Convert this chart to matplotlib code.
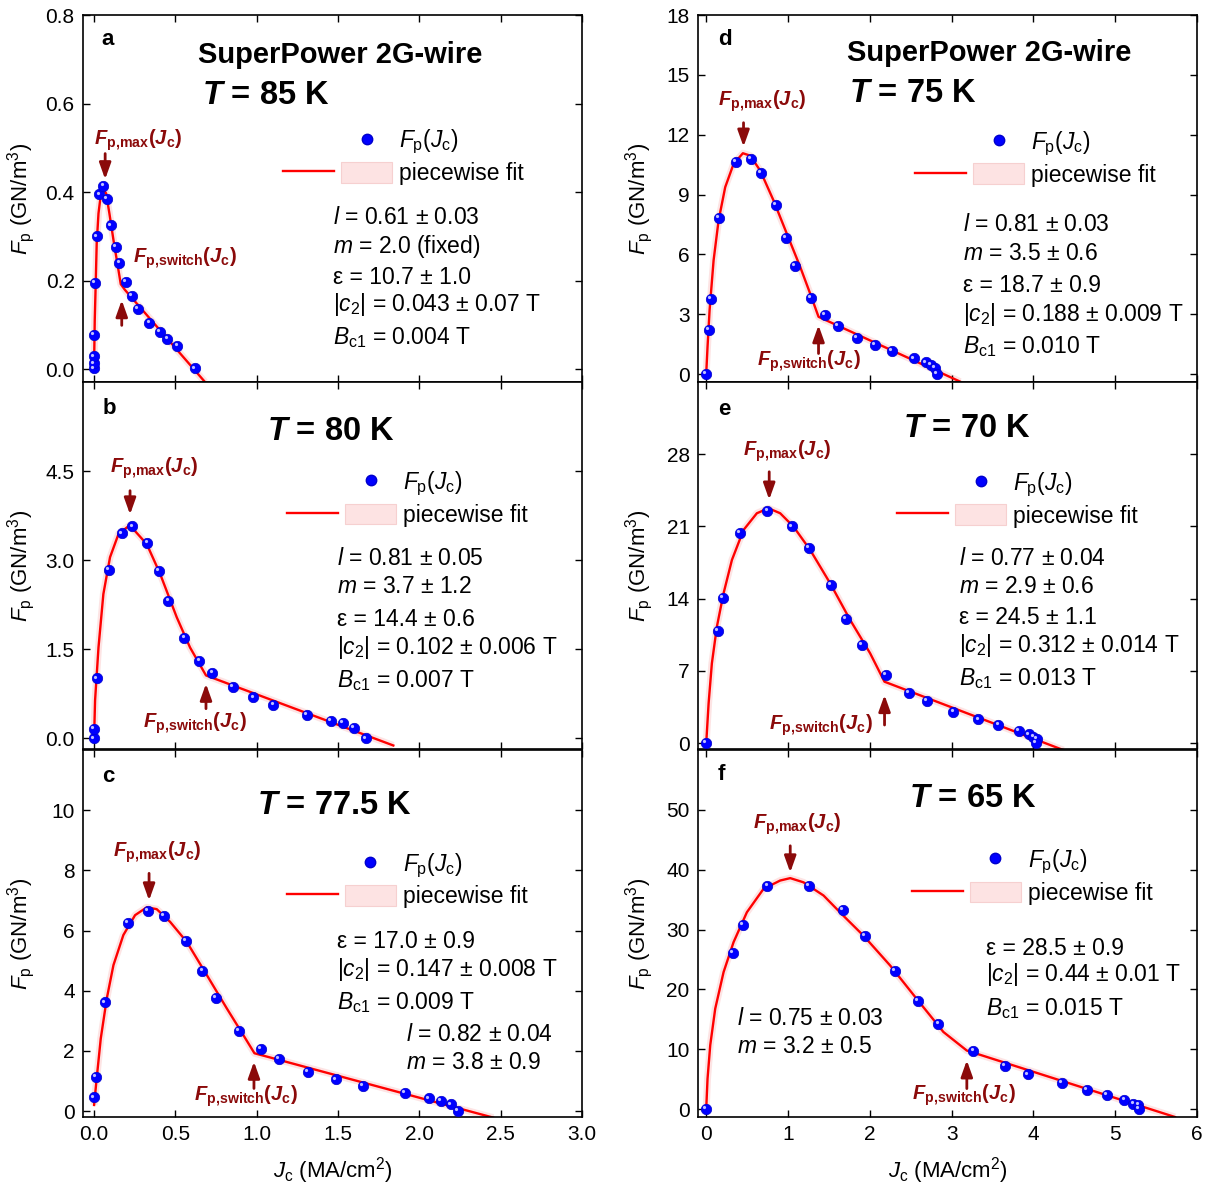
import matplotlib
matplotlib.use('Agg')
import matplotlib.pyplot as plt
from matplotlib.lines import Line2D
from matplotlib.patches import Patch
from matplotlib.legend_handler import HandlerTuple
from matplotlib.ticker import FormatStrFormatter
from matplotlib.transforms import offset_copy

plt.rcParams['font.family'] = ['Liberation Sans', 'DejaVu Sans']
plt.rcParams['mathtext.fontset'] = 'custom'
plt.rcParams['mathtext.rm'] = 'Liberation Sans'
plt.rcParams['mathtext.it'] = 'Liberation Sans:italic'
plt.rcParams['mathtext.bf'] = 'Liberation Sans:bold'
plt.rcParams['mathtext.bfit'] = 'Liberation Sans:bold:italic'

# ---- data (Jc in MA/cm^2, Fp in GN/m^3) ----
jc_a = [0.0, 0.0, 0.0, 0.0, 0.006, 0.016, 0.033, 0.057, 0.078, 0.104, 0.135, 0.156,
        0.197, 0.232, 0.268, 0.340, 0.406, 0.451, 0.512, 0.621]
fp_a = [0.002, 0.013, 0.029, 0.078, 0.195, 0.300, 0.395, 0.414, 0.384, 0.325, 0.276, 0.240,
        0.197, 0.165, 0.137, 0.105, 0.084, 0.068, 0.053, 0.002]
fit_jc_a = [0.0, 0.004, 0.010, 0.016, 0.027, 0.041, 0.057, 0.074, 0.094, 0.119, 0.143, 0.164, 0.19, 0.682]
fit_fp_a = [0.013, 0.111, 0.194, 0.284, 0.352, 0.393, 0.406, 0.397, 0.352, 0.292, 0.239, 0.192, 0.179, -0.029]

jc_b = [0.0, 0.0, 0.016, 0.092, 0.170, 0.236, 0.328, 0.400, 0.457, 0.555, 0.647, 0.727,
        0.852, 0.979, 1.102, 1.307, 1.455, 1.528, 1.598, 1.672]
fp_b = [0.0, 0.16, 1.01, 2.83, 3.45, 3.57, 3.29, 2.82, 2.31, 1.69, 1.31, 1.10,
        0.86, 0.69, 0.57, 0.40, 0.30, 0.26, 0.17, 0.0]
fit_jc_b = [0.0, 0.006, 0.027, 0.057, 0.098, 0.150, 0.215, 0.252, 0.324, 0.406, 0.508, 0.590, 0.688, 1.840]
fit_fp_b = [0.02, 0.64, 1.53, 2.43, 3.05, 3.44, 3.58, 3.49, 3.27, 2.77, 2.04, 1.53, 1.06, -0.12]

jc_c = [0.0, 0.012, 0.068, 0.207, 0.330, 0.430, 0.563, 0.666, 0.748, 0.891, 1.026, 1.137,
        1.313, 1.487, 1.655, 1.911, 2.061, 2.131, 2.192, 2.239]
fp_c = [0.45, 1.14, 3.61, 6.24, 6.66, 6.48, 5.66, 4.66, 3.76, 2.67, 2.06, 1.72,
        1.31, 1.05, 0.83, 0.59, 0.42, 0.33, 0.22, 0.0]
fit_jc_c = [0.0, 0.016, 0.041, 0.078, 0.119, 0.180, 0.252, 0.324, 0.385, 0.467, 0.570, 0.693,
            0.816, 0.918, 0.986, 2.454]
fit_fp_c = [0.20, 1.09, 2.41, 3.74, 4.85, 5.85, 6.51, 6.77, 6.71, 6.29, 5.62, 4.52,
            3.41, 2.52, 1.92, -0.22]

jc_d = [0.0, 0.029, 0.057, 0.159, 0.363, 0.542, 0.668, 0.851, 0.974, 1.088, 1.283, 1.454,
        1.609, 1.841, 2.065, 2.269, 2.542, 2.684, 2.746, 2.798, 2.819]
fp_d = [0.0, 2.2, 3.75, 7.83, 10.62, 10.78, 10.07, 8.48, 6.83, 5.42, 3.83, 2.95,
        2.42, 1.83, 1.45, 1.15, 0.78, 0.58, 0.45, 0.32, 0.0]
fit_jc_d = [0.0, 0.016, 0.041, 0.090, 0.151, 0.232, 0.334, 0.448, 0.538, 0.660, 0.823, 0.986,
            1.149, 1.271, 1.373, 3.104]
fit_fp_d = [0.03, 1.37, 3.2, 5.7, 7.7, 9.37, 10.53, 11.07, 10.95, 10.2, 8.7, 7.03,
            5.37, 4.03, 2.87, -0.38]

jc_e = [0.0, 0.143, 0.200, 0.407, 0.749, 1.047, 1.259, 1.524, 1.711, 1.902, 2.200, 2.481,
        2.697, 3.022, 3.328, 3.572, 3.825, 3.947, 4.0, 4.041, 4.029]
fp_e = [0.0, 10.9, 14.1, 20.4, 22.5, 21.0, 18.9, 15.3, 12.0, 9.5, 6.6, 4.9,
        4.07, 3.04, 2.3, 1.75, 1.2, 0.84, 0.61, 0.39, 0.0]
fit_jc_e = [0.0, 0.029, 0.069, 0.130, 0.212, 0.314, 0.456, 0.619, 0.762, 0.904, 1.067, 1.271,
            1.515, 1.760, 2.004, 2.179, 4.367]
fit_fp_e = [0.0, 3.85, 7.73, 11.28, 14.52, 17.75, 20.66, 22.28, 22.76, 22.28, 20.98, 18.72,
            15.49, 11.93, 8.70, 5.95, -0.68]

jc_f = [0.0, 0.326, 0.444, 0.749, 1.251, 1.666, 1.943, 2.310, 2.587, 2.839, 3.267, 3.654,
        3.931, 4.347, 4.652, 4.897, 5.112, 5.222, 5.283, 5.291]
fp_f = [0.0, 26.1, 30.8, 37.3, 37.3, 33.3, 29.0, 23.1, 18.1, 14.3, 9.8, 7.2,
        5.83, 4.4, 3.28, 2.44, 1.61, 0.94, 0.67, 0.0]
fit_jc_f = [0.0, 0.016, 0.049, 0.110, 0.212, 0.334, 0.497, 0.700, 0.904, 1.027, 1.189, 1.434,
            1.678, 1.922, 2.249, 2.575, 2.900, 3.186, 5.731]
fit_fp_f = [0.1, 5.1, 10.7, 16.8, 22.9, 27.9, 32.9, 36.8, 38.2, 38.6, 37.9, 35.7,
            32.3, 29.0, 24.0, 18.4, 12.9, 9.8, -1.3]

yticks_a = [0.0, 0.2, 0.4, 0.6, 0.8]
yticks_b = [0.0, 1.5, 3.0, 4.5]
yticks_c = [0, 2, 4, 6, 8, 10]
yticks_d = [0, 3, 6, 9, 12, 15, 18]
yticks_e = [0, 7, 14, 21, 28]
yticks_f = [0, 10, 20, 30, 40, 50]
xticks_left = [0.0, 0.5, 1.0, 1.5, 2.0, 2.5, 3.0]
xticks_right = [0, 1, 2, 3, 4, 5, 6]

stats_a = [r'$l$ = 0.61 ± 0.03', r'$m$ = 2.0 (fixed)', 'ε = 10.7 ± 1.0',
           r'$|c_2|$ = 0.043 ± 0.07 T', r'$B_{\mathrm{c1}}$ = 0.004 T']
stats_b = [r'$l$ = 0.81 ± 0.05', r'$m$ = 3.7 ± 1.2', 'ε = 14.4 ± 0.6',
           r'$|c_2|$ = 0.102 ± 0.006 T', r'$B_{\mathrm{c1}}$ = 0.007 T']
stats_c = ['ε = 17.0 ± 0.9', r'$|c_2|$ = 0.147 ± 0.008 T', r'$B_{\mathrm{c1}}$ = 0.009 T',
           r'$l$ = 0.82 ± 0.04', r'$m$ = 3.8 ± 0.9']
stats_d = [r'$l$ = 0.81 ± 0.03', r'$m$ = 3.5 ± 0.6', 'ε = 18.7 ± 0.9',
           r'$|c_2|$ = 0.188 ± 0.009 T', r'$B_{\mathrm{c1}}$ = 0.010 T']
stats_e = [r'$l$ = 0.77 ± 0.04', r'$m$ = 2.9 ± 0.6', 'ε = 24.5 ± 1.1',
           r'$|c_2|$ = 0.312 ± 0.014 T', r'$B_{\mathrm{c1}}$ = 0.013 T']
stats_f = ['ε = 28.5 ± 0.9', r'$|c_2|$ = 0.44 ± 0.01 T', r'$B_{\mathrm{c1}}$ = 0.015 T',
           r'$l$ = 0.75 ± 0.03', r'$m$ = 3.2 ± 0.5']

BLUE = '#0000ff'
DRED = '#8b0a0a'
PINK = '#fde4e4'
MAXLBL = r'$\mathbfit{F}_{\mathbf{p,\!max}}\mathbf{(}\mathbfit{J}_{\mathbf{c}}\mathbf{)}$'
SWLBL = r'$\mathbfit{F}_{\mathbf{p,\!switch}}\mathbf{(}\mathbfit{J}_{\mathbf{c}}\mathbf{)}$'

fig = plt.figure(figsize=(12.14, 11.92), dpi=100)
W, H = 0.411, 0.3079
ax_a = fig.add_axes([0.0684, 0.6795, W, H])
ax_b = fig.add_axes([0.0684, 0.3716, W, H])
ax_c = fig.add_axes([0.0684, 0.0629, W, H])
ax_d = fig.add_axes([0.575, 0.6795, W, H])
ax_e = fig.add_axes([0.575, 0.3716, W, H])
ax_f = fig.add_axes([0.575, 0.0629, W, H])


def panel(ax, jc, fp, fit_jc, fit_fp, leg_xy):
    ax.plot(fit_jc, fit_fp, color=PINK, lw=5, solid_capstyle='butt', zorder=1)
    ax.plot(fit_jc, fit_fp, color='#ff0000', lw=1.7, zorder=2)
    ax.plot(jc, fp, ls='none', marker='o', ms=7.5, mfc=BLUE, mec='#0000cc', mew=0.5, zorder=3)
    hl = offset_copy(ax.transData, fig=fig, x=-1.3, y=1.3, units='points')
    ax.plot(jc, fp, ls='none', marker='o', ms=2.3, mfc='#c0c0ff', mec='none', transform=hl, zorder=4)

    dot = Line2D([], [], ls='none', marker='o', ms=7.5, mfc=BLUE, mec='#0000cc')
    blank = Line2D([], [], ls='none')
    red = Line2D([], [], color='#ff0000', lw=1.7)
    band = Patch(facecolor='#fde3e3', edgecolor='#f6d0d0', lw=0.8)
    ax.legend([(blank, dot), (red, band)], [r'$F_{\mathrm{p}}(J_{\mathrm{c}})$', 'piecewise fit'],
              handler_map={tuple: HandlerTuple(ndivide=None, pad=0.31)},
              loc='center left', bbox_to_anchor=leg_xy, frameon=False, fontsize=16.5,
              handlelength=4.76, handleheight=1.0, handletextpad=0.3, labelspacing=0.25,
              borderpad=0, borderaxespad=0)

    ax.tick_params(direction='in', top=True, right=True, length=5, width=1, labelsize=15, pad=6)
    for s in ax.spines.values():
        s.set_linewidth(1.2)


def stats(ax, lines, xs, ys):
    for t, x, y in zip(lines, xs, ys):
        ax.text(x, y, t, transform=ax.transAxes, fontsize=16.5, ha='left', va='center')


def arrows(ax, max_txt, max_tail, max_head, sw_txt, sw_tail, sw_head):
    ap = dict(arrowstyle='-|>,head_length=0.7,head_width=0.25', color=DRED, lw=2,
              shrinkA=0, shrinkB=0, mutation_scale=14)
    ax.annotate('', xy=max_head, xytext=max_tail, arrowprops=ap)
    ax.annotate('', xy=sw_head, xytext=sw_tail, arrowprops=ap)
    ax.text(*max_txt, MAXLBL, color=DRED, fontsize=14.5, ha='center', va='center')
    ax.text(*sw_txt, SWLBL, color=DRED, fontsize=14.5, ha='center', va='center')


def heading(ax, letter, lxy, temp, txy):
    ax.text(*lxy, letter, transform=ax.transAxes, fontsize=16, fontweight='bold', ha='center', va='center')
    ax.text(*txy, r'$\mathbfit{T}$ = ' + temp, transform=ax.transAxes, fontsize=23.5,
            fontweight='bold', ha='left', va='center')


# panel a
panel(ax_a, jc_a, fp_a, fit_jc_a, fit_fp_a, (0.401, 0.614))
heading(ax_a, 'a', (0.05, 0.932), '85 K', (0.238, 0.782))
ax_a.text(0.230, 0.891, 'SuperPower 2G-wire', transform=ax_a.transAxes, fontsize=21,
          fontweight='bold', ha='left', va='center')
stats(ax_a, stats_a, [0.501] * 5, [0.447, 0.368, 0.286, 0.210, 0.120])
arrows(ax_a, (0.27, 0.517), (0.068, 0.487), (0.068, 0.429),
       (0.559, 0.25), (0.17, 0.099), (0.17, 0.156))
ax_a.set_ylim(-0.029, 0.8)
ax_a.set_yticks(yticks_a)
ax_a.yaxis.set_major_formatter(FormatStrFormatter('%.1f'))

# panel b
panel(ax_b, jc_b, fp_b, fit_jc_b, fit_fp_b, (0.409, 0.683))
heading(ax_b, 'b', (0.052, 0.929), '80 K', (0.369, 0.864))
stats(ax_b, stats_b, [0.508] * 5, [0.520, 0.442, 0.353, 0.278, 0.188])
arrows(ax_b, (0.369, 4.55), (0.221, 4.17), (0.221, 3.77),
       (0.621, 0.247), (0.688, 0.50), (0.688, 0.92))
ax_b.set_ylim(-0.18, 6.0)
ax_b.set_yticks(yticks_b)
ax_b.yaxis.set_major_formatter(FormatStrFormatter('%.1f'))

# panel c
panel(ax_c, jc_c, fp_c, fit_jc_c, fit_fp_c, (0.408, 0.6465))
heading(ax_c, 'c', (0.051, 0.927), '77.5 K', (0.348, 0.850))
stats(ax_c, stats_c, [0.508, 0.508, 0.508, 0.648, 0.648], [0.478, 0.403, 0.313, 0.225, 0.149])
arrows(ax_c, (0.387, 8.59), (0.338, 7.9), (0.338, 7.0),
       (0.933, 0.475), (0.983, 0.75), (0.983, 1.64))
ax_c.set_ylim(-0.2, 12)
ax_c.set_yticks(yticks_c)

# panel d
panel(ax_d, jc_d, fp_d, fit_jc_d, fit_fp_d, (0.435, 0.6105))
heading(ax_d, 'd', (0.054, 0.932), '75 K', (0.303, 0.787))
ax_d.text(0.298, 0.896, 'SuperPower 2G-wire', transform=ax_d.transAxes, fontsize=21,
          fontweight='bold', ha='left', va='center')
stats(ax_d, stats_d, [0.532] * 5, [0.428, 0.351, 0.262, 0.185, 0.096])
arrows(ax_d, (0.68, 13.7), (0.456, 12.6), (0.456, 11.4),
       (1.26, 0.62), (1.373, 1.03), (1.373, 2.45))
ax_d.set_ylim(-0.4, 18)
ax_d.set_yticks(yticks_d)

# panel e
panel(ax_e, jc_e, fp_e, fit_jc_e, fit_fp_e, (0.399, 0.6815))
heading(ax_e, 'e', (0.053, 0.925), '70 K', (0.411, 0.874))
stats(ax_e, stats_e, [0.522] * 5, [0.520, 0.443, 0.359, 0.283, 0.193])
arrows(ax_e, (0.986, 28.25), (0.77, 26.3), (0.77, 23.6),
       (1.403, 1.75), (2.18, 1.75), (2.18, 4.66))
ax_e.set_ylim(-0.58, 35)
ax_e.set_yticks(yticks_e)

# panel f
panel(ax_f, jc_f, fp_f, fit_jc_f, fit_fp_f, (0.428, 0.6555))
heading(ax_f, 'f', (0.047, 0.932), '65 K', (0.423, 0.868))
stats(ax_f, stats_f, [0.577, 0.577, 0.577, 0.079, 0.079], [0.460, 0.387, 0.296, 0.269, 0.192])
arrows(ax_f, (1.116, 47.6), (1.027, 44), (1.027, 39.55),
       (3.153, 2.33), (3.186, 3.45), (3.186, 8.17))
ax_f.set_ylim(-1.3, 60)
ax_f.set_yticks(yticks_f)

for ax in (ax_a, ax_b, ax_c):
    ax.set_xlim(-0.068, 3.0)
    ax.set_xticks(xticks_left)
    ax.xaxis.set_major_formatter(FormatStrFormatter('%.1f'))
    ax.set_ylabel(r'$F_{\mathrm{p}}$ (GN/m$^3$)', fontsize=16)
    ax.yaxis.set_label_coords(-0.092, 0.5)
for ax in (ax_d, ax_e, ax_f):
    ax.set_xlim(-0.1, 6.0)
    ax.set_xticks(xticks_right)
    ax.set_ylabel(r'$F_{\mathrm{p}}$ (GN/m$^3$)', fontsize=16)
    ax.yaxis.set_label_coords(-0.087, 0.5)
for ax in (ax_a, ax_b, ax_d, ax_e):
    ax.tick_params(labelbottom=False)
for ax in (ax_c, ax_f):
    ax.set_xlabel(r'$J_{\mathrm{c}}$ (MA/cm$^2$)', fontsize=16)
    ax.xaxis.set_label_coords(0.5, -0.105)

fig.savefig('out.png', dpi=100)
